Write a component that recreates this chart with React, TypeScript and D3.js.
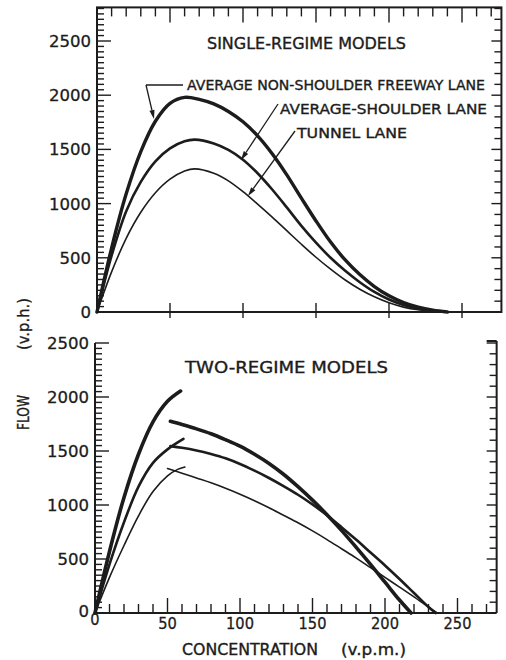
import React from 'react';
import * as d3 from 'd3';

type P = [number, number];

// Axis tick values
const X_LABELS = [0, 50, 100, 150, 200, 250];
const Y_LABELS = [0, 500, 1000, 1500, 2000, 2500];
const X_MAX = 277;
const Y_TOP_MAX = 2810;

// Single-regime models (concentration v.p.m., flow v.p.h.)
const SR_FREEWAY: P[] = [
  [0, 0], [10, 590], [20, 1090], [30, 1480], [40, 1760], [50, 1925], [60, 1980], [70, 1962],
  [80, 1920], [90, 1850], [100, 1755], [110, 1625], [120, 1460], [130, 1265], [140, 1050], [150, 840],
  [160, 645], [170, 480], [180, 345], [190, 235], [200, 150], [210, 88], [220, 45], [230, 17], [240, 0],
];
const SR_SHOULDER: P[] = [
  [0, 0], [10, 520], [20, 930], [30, 1200], [40, 1390], [50, 1510], [60, 1575], [67, 1590], [80, 1555],
  [90, 1495], [100, 1405], [110, 1280], [120, 1130], [130, 965], [140, 795], [150, 640], [160, 500],
  [170, 380], [180, 275], [190, 185], [200, 115], [210, 65], [220, 30], [230, 10], [238, 0],
];
const SR_TUNNEL: P[] = [
  [0, 0], [10, 370], [20, 680], [30, 920], [40, 1100], [50, 1225], [60, 1300], [67, 1320], [80, 1280],
  [90, 1210], [100, 1110], [110, 995], [120, 875], [130, 750], [140, 625], [150, 505], [160, 395],
  [170, 295], [180, 210], [190, 140], [200, 85], [210, 45], [220, 20], [230, 6], [236, 0],
];

// Two-regime models
const TR_FREEWAY_FREE: P[] = [
  [0, 0], [10, 570], [20, 1070], [30, 1470], [40, 1770], [50, 1960], [59, 2055],
];
const TR_FREEWAY_CONG: P[] = [
  [52, 1775], [60, 1745], [70, 1705], [80, 1660], [90, 1605], [100, 1545], [110, 1470], [120, 1385],
  [130, 1285], [140, 1170], [150, 1045], [160, 910], [170, 765], [180, 610], [190, 450], [200, 285],
  [210, 120], [218, 0],
];
const TR_SHOULDER_FREE: P[] = [
  [0, 0], [10, 450], [20, 840], [30, 1170], [40, 1390], [50, 1515], [61, 1612],
];
const TR_SHOULDER_CONG: P[] = [
  [52, 1545], [60, 1530], [70, 1505], [80, 1472], [90, 1432], [100, 1380], [110, 1318], [120, 1250],
  [130, 1175], [140, 1095], [150, 1005], [160, 905], [170, 795], [180, 680], [190, 560], [200, 440],
  [210, 315], [220, 185], [230, 55], [235, 0],
];
const TR_TUNNEL_FREE: P[] = [
  [0, 0], [10, 330], [20, 625], [30, 900], [40, 1125], [50, 1270], [57, 1330], [62, 1352],
];
const TR_TUNNEL_CONG: P[] = [
  [50, 1338], [60, 1295], [70, 1250], [80, 1205], [90, 1155], [100, 1100], [110, 1040], [120, 975],
  [130, 905], [140, 835], [150, 760], [160, 680], [170, 595], [180, 510], [190, 420], [200, 330],
  [210, 240], [220, 150], [230, 55], [236, 0],
];

const INK = '#1c1c1c';
const FONT = "'DejaVu Sans', 'Liberation Sans', sans-serif";

export default function App() {
  const W = 506;
  const H = 660;
  const xT = d3.scaleLinear().domain([0, 250]).range([97, 462]);
  const yT = d3.scaleLinear().domain([0, 2500]).range([312, 41]);
  const xB = d3.scaleLinear().domain([0, 250]).range([95, 457.5]);
  const yB = d3.scaleLinear().domain([0, 2500]).range([613, 343]);

  const lineT = d3.line<P>().x(d => xT(d[0])).y(d => yT(d[1])).curve(d3.curveCatmullRom.alpha(0.5));
  const lineB = d3.line<P>().x(d => xB(d[0])).y(d => yB(d[1])).curve(d3.curveCatmullRom.alpha(0.5));

  const topY0 = yT(Y_TOP_MAX);
  const tRight = xT(X_MAX);
  const bRight = xB(X_MAX);
  const bTop = yB(2500);

  const ticks: JSX.Element[] = [];
  d3.range(50, 2801, 50).forEach(v => {
    const len = v % 500 === 0 ? 14 : 7;
    ticks.push(<line key={'tl' + v} x1={xT(0)} x2={xT(0) + len} y1={yT(v)} y2={yT(v)} />);
  });
  d3.range(10, 271, 10).forEach(v => {
    const len = v % 50 === 0 ? 15 : 9;
    ticks.push(<line key={'tt' + v} x1={xT(v)} x2={xT(v)} y1={topY0} y2={topY0 + len} />);
  });
  d3.range(100, 2801, 100).forEach(v => {
    const len = v % 500 === 0 ? 10 : 7;
    ticks.push(<line key={'tr' + v} x1={tRight} x2={tRight - len} y1={yT(v)} y2={yT(v)} />);
  });
  X_LABELS.filter(v => v > 0).forEach(v => {
    ticks.push(<line key={'tb' + v} x1={xT(v)} x2={xT(v)} y1={yT(0) - 9} y2={yT(0) + 6} />);
  });
  d3.range(50, 2501, 50).forEach(v => {
    const len = v % 500 === 0 ? 14 : 7;
    ticks.push(<line key={'bl' + v} x1={xB(0)} x2={xB(0) + len} y1={yB(v)} y2={yB(v)} />);
  });
  d3.range(10, 271, 10).forEach(v => {
    const len = v % 50 === 0 ? 15 : 9;
    ticks.push(<line key={'bb' + v} x1={xB(v)} x2={xB(v)} y1={yB(0)} y2={yB(0) - len} />);
  });
  d3.range(100, 2501, 100).forEach(v => {
    const len = v % 500 === 0 ? 10 : 7;
    ticks.push(<line key={'br' + v} x1={bRight} x2={bRight - len} y1={yB(v)} y2={yB(v)} />);
  });

  const arrow = (x1: number, y1: number, x2: number, y2: number, key: string) => {
    const a = Math.atan2(y2 - y1, x2 - x1);
    const L = 9, w = 2.6;
    const bx = x2 - L * Math.cos(a), by = y2 - L * Math.sin(a);
    const px = -Math.sin(a) * w, py = Math.cos(a) * w;
    return (
      <g key={key}>
        <line x1={x1} y1={y1} x2={bx} y2={by} stroke={INK} strokeWidth={1.3} />
        <polygon points={`${x2},${y2} ${bx + px},${by + py} ${bx - px},${by - py}`} fill={INK} />
      </g>
    );
  };

  return (
    <svg width={W} height={H} style={{ position: 'absolute', left: 0, top: 0, background: '#fff' }}
      fontFamily={FONT}>
      <rect x={0} y={0} width={W} height={H} fill="#fff" />
      <g stroke={INK} strokeWidth={2} fill="none">
        <rect x={xT(0)} y={topY0} width={tRight - xT(0)} height={yT(0) - topY0} />
        <line x1={xB(0)} y1={bTop} x2={xB(0)} y2={yB(0)} />
        <line x1={xB(0)} y1={yB(0)} x2={bRight} y2={yB(0)} />
        <line x1={bRight} y1={bTop - 2} x2={bRight} y2={yB(0)} />
        <line x1={bRight} y1={bTop - 2} x2={bRight - 10} y2={bTop - 2} />
      </g>
      <g stroke={INK} strokeWidth={1.4}>{ticks}</g>

      <g fill={INK} stroke={INK} strokeWidth={0.3} fontSize={16.5}>
        {Y_LABELS.map(v => (
          <text key={'yl' + v} x={xT(0) - 6} y={yT(v)} dy="0.36em" textAnchor="end">{v}</text>
        ))}
        {Y_LABELS.map(v => (
          <text key={'ylb' + v} x={xB(0) - 6} y={yB(v) - (v === 0 ? 2 : 0)} dy="0.36em" textAnchor="end">{v}</text>
        ))}
      </g>
      <g fill={INK} stroke={INK} strokeWidth={0.3} fontSize={16}>
        {X_LABELS.map(v => {
          const n = String(v).length;
          return (
            <text key={'xl' + v} x={xB(v) - (n * 9.3) / 2} y={629 - (v === 0 ? 4 : 0)}
              textLength={n * 9.3} lengthAdjust="spacingAndGlyphs">{v}</text>
          );
        })}
      </g>

      <g fill="none" stroke={INK} strokeLinecap="round" strokeLinejoin="round">
        <path d={lineT(SR_FREEWAY) || ''} strokeWidth={3.4} />
        <path d={lineT(SR_SHOULDER) || ''} strokeWidth={2.6} />
        <path d={lineT(SR_TUNNEL) || ''} strokeWidth={1.6} />
        <path d={lineB(TR_FREEWAY_FREE) || ''} strokeWidth={3.6} />
        <path d={lineB(TR_FREEWAY_CONG) || ''} strokeWidth={3.6} />
        <path d={lineB(TR_SHOULDER_FREE) || ''} strokeWidth={2.6} />
        <path d={lineB(TR_SHOULDER_CONG) || ''} strokeWidth={2.6} />
        <path d={lineB(TR_TUNNEL_FREE) || ''} strokeWidth={1.6} />
        <path d={lineB(TR_TUNNEL_CONG) || ''} strokeWidth={1.6} />
      </g>

      <line x1={183} y1={85} x2={146} y2={85} stroke={INK} strokeWidth={1.3} />
      {arrow(146, 85, 154, 119, 'a1')}
      {arrow(278, 104, 241, 160, 'a2')}
      {arrow(295, 131, 248, 196, 'a3')}

      <g fill={INK} stroke={INK} strokeWidth={0.35}>
        <text x={207} y={49} fontSize={15} textLength={199} lengthAdjust="spacingAndGlyphs">SINGLE-REGIME MODELS</text>
        <text x={187} y={90} fontSize={13.5} textLength={298} lengthAdjust="spacingAndGlyphs">AVERAGE NON-SHOULDER FREEWAY LANE</text>
        <text x={280} y={114} fontSize={13.5} textLength={207} lengthAdjust="spacingAndGlyphs">AVERAGE-SHOULDER LANE</text>
        <text x={297} y={138} fontSize={13.5} textLength={110} lengthAdjust="spacingAndGlyphs">TUNNEL LANE</text>
        <text x={185} y={373} fontSize={15} textLength={203} lengthAdjust="spacingAndGlyphs">TWO-REGIME MODELS</text>
        <text x={182} y={655} fontSize={15} textLength={136} lengthAdjust="spacingAndGlyphs">CONCENTRATION</text>
        <text x={341} y={655} fontSize={15.5} textLength={65} lengthAdjust="spacingAndGlyphs">(v.p.m.)</text>
        <text transform="translate(29,430) rotate(-90)" fontSize={15} textLength={35} lengthAdjust="spacingAndGlyphs">FLOW</text>
        <text transform="translate(29,350) rotate(-90)" fontSize={15.5} textLength={52} lengthAdjust="spacingAndGlyphs">(v.p.h.)</text>
      </g>
    </svg>
  );
}
